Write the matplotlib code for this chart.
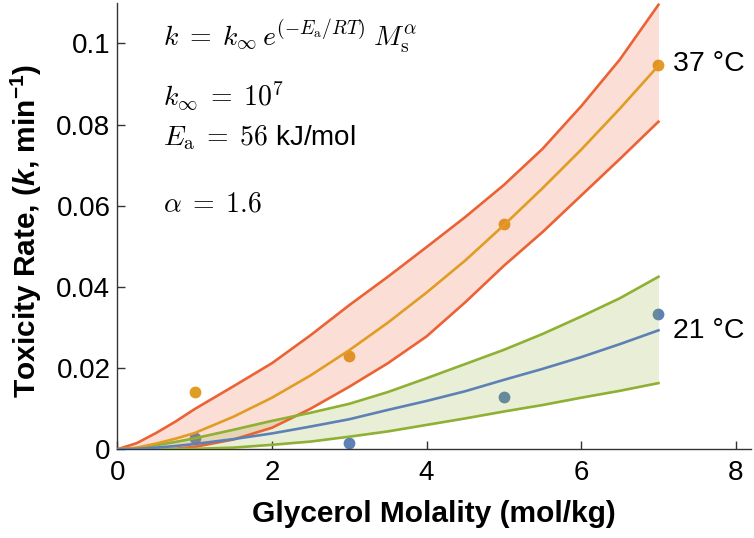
import numpy as np
import matplotlib.pyplot as plt

plt.rcParams['font.family'] = ['Liberation Sans', 'DejaVu Sans']
plt.rcParams['mathtext.fontset'] = 'custom'
plt.rcParams['mathtext.rm'] = 'Liberation Sans:bold'
plt.rcParams['mathtext.it'] = 'Liberation Sans:italic:bold'
plt.rcParams['mathtext.bf'] = 'Liberation Sans:bold'

# measured points
mol_pts = [1, 3, 5, 7]
rate_37 = [0.0142, 0.0231, 0.0555, 0.0947]
rate_21 = [0.0027, 0.0015, 0.0130, 0.0334]

mol = [0, 0.25, 0.5, 0.75, 1, 1.5, 2, 2.5, 3, 3.5, 4, 4.5, 5, 5.5, 6, 6.5, 7]
fit_37 = [0, 0.0004, 0.0014, 0.0026, 0.0040, 0.0080, 0.0127, 0.0182, 0.0244, 0.0312,
          0.0386, 0.0465, 0.0552, 0.0643, 0.0738, 0.0839, 0.0945]
hi_37 = [0, 0.0015, 0.0040, 0.0068, 0.0099, 0.0155, 0.0212, 0.0281, 0.0355, 0.0425,
         0.0498, 0.0572, 0.0651, 0.0740, 0.0845, 0.0960, 0.1095]
lo_37 = [0, 0.0000, 0.0000, 0.0001, 0.0006, 0.0024, 0.0053, 0.0100, 0.0154, 0.0212,
         0.0278, 0.0362, 0.0452, 0.0535, 0.0625, 0.0715, 0.0807]
fit_21 = [0, 0.0001, 0.0004, 0.0008, 0.0013, 0.0025, 0.0039, 0.0056, 0.0074, 0.0097,
          0.0119, 0.0143, 0.0171, 0.0198, 0.0227, 0.0259, 0.0293]
hi_21 = [0, 0.0003, 0.0010, 0.0018, 0.0027, 0.0048, 0.0070, 0.0090, 0.0112, 0.0141,
         0.0175, 0.0210, 0.0245, 0.0284, 0.0327, 0.0372, 0.0425]
lo_21 = [0, 0.0000, 0.0000, 0.0000, 0.0001, 0.0004, 0.0011, 0.0019, 0.0031, 0.0044,
         0.0060, 0.0076, 0.0093, 0.0109, 0.0127, 0.0144, 0.0163]

blue, orange, green, red = '#5E81B5', '#E19C24', '#8FB032', '#EB6235'

fig = plt.figure(figsize=(7.54, 5.38), dpi=100)
ax = fig.add_axes([0.1556, 0.1649, 0.8407, 0.830])

ax.plot(mol_pts, rate_37, 'o', color=orange, ms=8.5, mec='none', zorder=1)
ax.plot(mol_pts, rate_21, 'o', color=blue, ms=8.5, mec='none', zorder=1)

ax.fill_between(mol, lo_37, hi_37, color=red, alpha=0.2, lw=0, zorder=2)
ax.fill_between(mol, lo_21, hi_21, color=green, alpha=0.2, lw=0, zorder=2)

lw = 1.9
ax.plot(mol, hi_37, color=red, lw=lw, zorder=3)
ax.plot(mol, lo_37, color=red, lw=lw, zorder=3)
ax.plot(mol, hi_21, color=green, lw=lw, zorder=3)
ax.plot(mol, lo_21, color=green, lw=lw, zorder=3)
ax.plot(mol, fit_37, color=orange, lw=lw, zorder=4)
ax.plot(mol, fit_21, color=blue, lw=lw, zorder=4)

ax.text(7.19, 0.0933, '37 °C', fontsize=20.5, va='baseline', ha='left')
ax.text(7.19, 0.0273, '21 °C', fontsize=20.5, va='baseline', ha='left')

eqs = [r'$k\;=\;k_\infty\,e^{(-E_\mathrm{a}/RT)}\;M_\mathrm{s}^\alpha$',
       r'$k_\infty\;=\;10^7$',
       r'$E_\mathrm{a}\;=\;56$ kJ/mol',
       r'$\alpha\;=\;1.6$']
eq_y = [0.0994, 0.0848, 0.0749, 0.0586]
for s, yy in zip(eqs, eq_y):
    ax.text(0.59, yy, s, fontsize=20, va='baseline', ha='left', math_fontfamily='cm')

ax.set_xlim(0, 8.2)
ax.set_ylim(0, 0.11)
ax.set_xticks([0, 2, 4, 6, 8])
ax.set_yticks([0, 0.02, 0.04, 0.06, 0.08, 0.1])
ax.set_yticklabels(['0', '0.02', '0.04', '0.06', '0.08', '0.1'])
ax.tick_params(direction='in', length=6, width=1, labelsize=20, color='#333333')
ax.tick_params(axis='x', pad=8)
ax.tick_params(axis='y', pad=5)
for side in ['top', 'right']:
    ax.spines[side].set_visible(False)
for side in ['left', 'bottom']:
    ax.spines[side].set_color('#333333')
    ax.spines[side].set_linewidth(1)

ax.set_xlabel('Glycerol Molality (mol/kg)', fontsize=21.5, fontweight='bold', labelpad=10)
ax.set_ylabel(r'Toxicity Rate, ($k$, min$^{-1}$)', fontsize=21.5, fontweight='bold')
ax.yaxis.set_label_coords(-0.116, 0.489)

fig.savefig('out.png', dpi=100)
